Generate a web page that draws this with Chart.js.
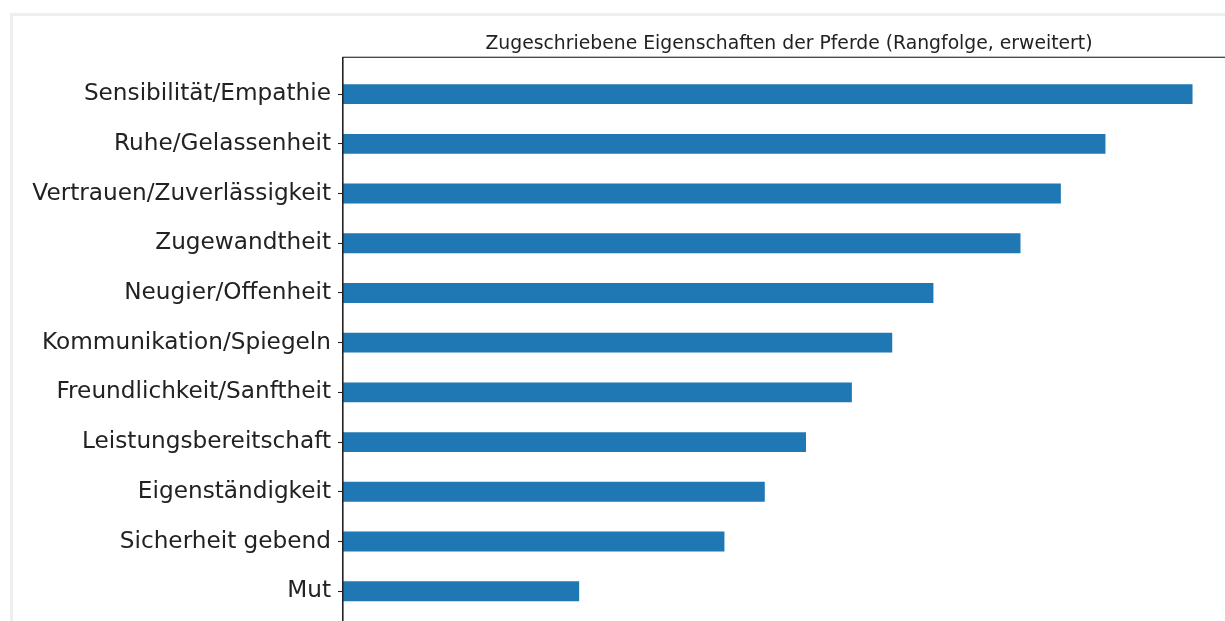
<!DOCTYPE html>
<html>
<head>
<meta charset="utf-8">
<script src="https://cdn.jsdelivr.net/npm/chart.js@4"></script>
<style>
  html, body { margin: 0; padding: 0; background: #fff; overflow: hidden; width: 1225px; height: 621px; }
  #frame { position: absolute; left: 10px; top: 13px; width: 1400px; height: 700px;
           border-left: 3px solid #eeeeee; border-top: 3px solid #eeeeee; }
  #wrap { position: absolute; left: 0; top: 0; width: 1578px; height: 649px; }
</style>
</head>
<body>
<div id="frame"></div>
<div id="wrap"><canvas id="c" width="1578" height="649"></canvas></div>
<script>
const title = "Zugeschriebene Eigenschaften der Pferde (Rangfolge, erweitert)";
const categories = [
  "Sensibilität/Empathie",
  "Ruhe/Gelassenheit",
  "Vertrauen/Zuverlässigkeit",
  "Zugewandtheit",
  "Neugier/Offenheit",
  "Kommunikation/Spiegeln",
  "Freundlichkeit/Sanftheit",
  "Leistungsbereitschaft",
  "Eigenständigkeit",
  "Sicherheit gebend",
  "Mut"
];
const values = [20, 17.95, 16.9, 15.95, 13.9, 12.93, 11.98, 10.9, 9.93, 8.98, 5.56];

const points = values.map((v, i) => ({ x: v, y: i }));

const frameBox = {
  id: 'frameBox',
  afterDatasetsDraw(chart) {
    const a = chart.chartArea, ctx = chart.ctx;
    ctx.save();
    ctx.strokeStyle = '#222';
    ctx.lineWidth = 1.1;
    ctx.strokeRect(a.left, a.top, a.right - a.left, a.bottom - a.top);
    ctx.restore();
  }
};

new Chart(document.getElementById('c'), {
  type: 'bar',
  data: {
    datasets: [{
      data: points,
      backgroundColor: '#1f77b4',
      borderWidth: 0,
      barPercentage: 0.4,
      categoryPercentage: 1.0,
      xAxisID: 'x',
      yAxisID: 'y'
    }]
  },
  options: {
    indexAxis: 'y',
    responsive: false,
    animation: false,
    layout: { padding: { left: 0, right: 0, top: 0, bottom: 0 } },
    plugins: {
      legend: { display: false },
      tooltip: { enabled: false },
      title: {
        display: true,
        text: title,
        color: '#222',
        font: { family: 'DejaVu Sans', size: 18.8, weight: 'normal' },
        padding: { top: 32.6, bottom: 2.1 }
      }
    },
    scales: {
      x: {
        type: 'linear',
        display: false,
        min: 0,
        max: 21
      },
      y: {
        type: 'linear',
        position: 'left',
        reverse: true,
        offset: false,
        min: -0.742,
        max: 10.742,
        afterFit(scale) { scale.width = 343; },
        afterBuildTicks(scale) {
          scale.ticks = categories.map((c, i) => ({ value: i }));
        },
        ticks: {
          callback: (v) => categories[v],
          color: '#222',
          font: { family: 'DejaVu Sans', size: 23.2 },
          padding: 7,
          autoSkip: false
        },
        grid: { offset: false, drawOnChartArea: false, drawTicks: true, tickLength: 5, color: '#222', tickWidth: 1.1 },
        border: { display: true, color: '#222', width: 1.1 }
      },
      yRight: {
        type: 'linear',
        position: 'right',
        display: true,
        min: 0,
        max: 1,
        afterFit(scale) { scale.width = 343; },
        ticks: { display: false },
        grid: { display: false, drawTicks: false },
        border: { display: false }
      }
    }
  },
  plugins: [frameBox]
});
</script>
</body>
</html>
